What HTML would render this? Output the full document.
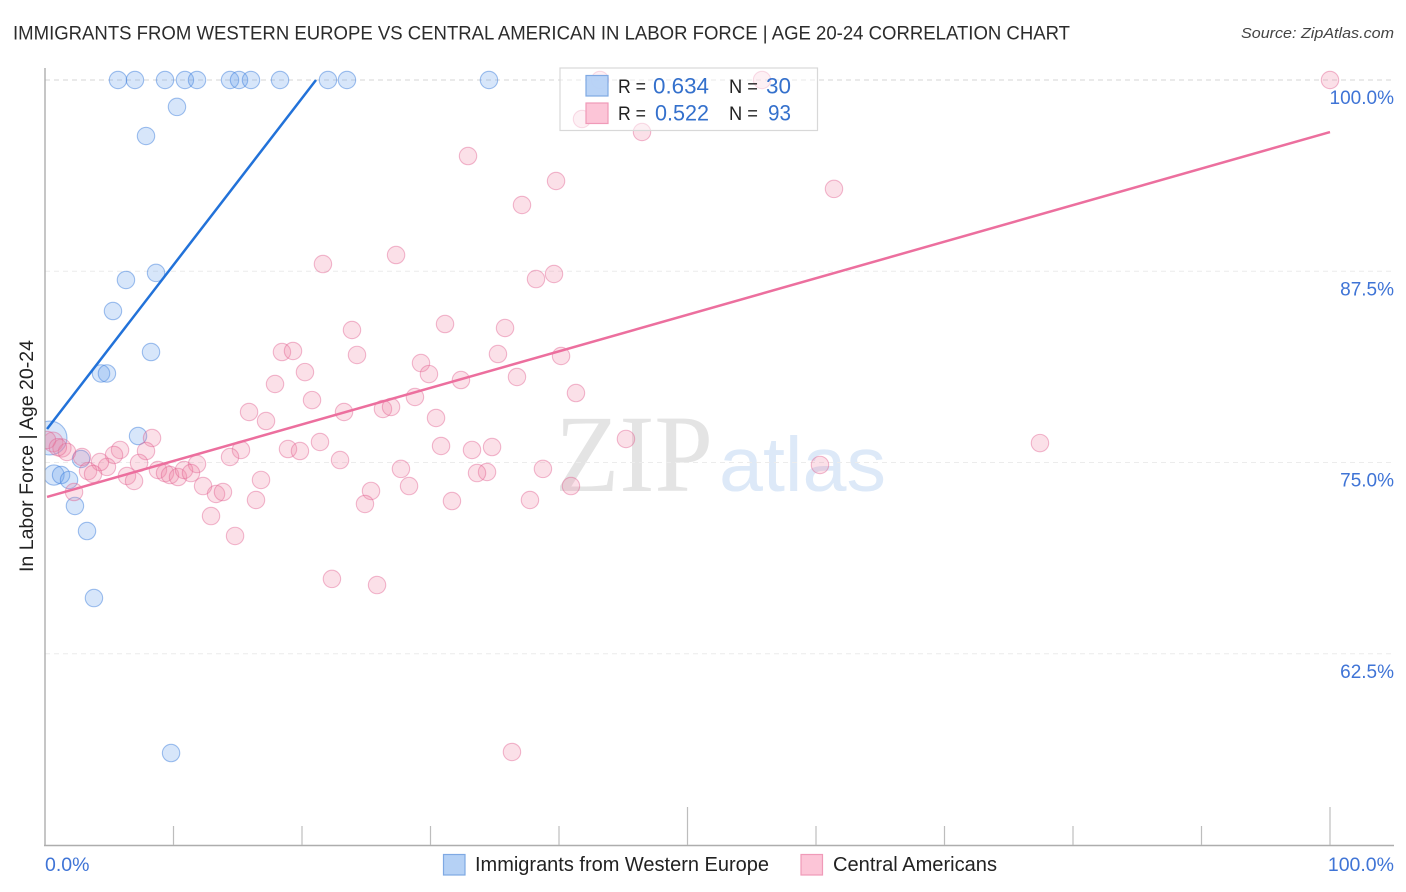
<!DOCTYPE html>
<html lang="en">
<head>
<meta charset="utf-8">
<title>Immigrants from Western Europe vs Central American in Labor Force | Age 20-24 Correlation Chart</title>
<style>
html,body{margin:0;padding:0;background:#fff;width:1406px;height:892px;overflow:hidden}
svg{display:block}
text{font-family:"Liberation Sans",sans-serif}
</style>
</head>
<body>
<svg id="chart" xmlns="http://www.w3.org/2000/svg" width="1406" height="892" viewBox="0 0 1406 892">
  <defs><clipPath id="plot-clip"><rect x="45.5" y="60" width="1360" height="785"/></clipPath></defs>
  <rect width="1406" height="892" fill="#fff"/>
  <text x="13" y="39.5" font-size="19.6" fill="#2b2b2b" textLength="1057" lengthAdjust="spacingAndGlyphs">IMMIGRANTS FROM WESTERN EUROPE VS CENTRAL AMERICAN IN LABOR FORCE | AGE 20-24 CORRELATION CHART</text>
  <text x="1394" y="38" font-size="15" font-style="italic" fill="#444" text-anchor="end" textLength="153" lengthAdjust="spacingAndGlyphs">Source: ZipAtlas.com</text>
  <text transform="translate(33,456) rotate(-90)" font-size="19" fill="#222" text-anchor="middle" textLength="232" lengthAdjust="spacingAndGlyphs">In Labor Force | Age 20-24</text>
  <g id="watermark">
    <text x="555" y="491" font-size="110" fill="#e4e4e4" textLength="158" lengthAdjust="spacingAndGlyphs" style="font-family:'Liberation Serif',serif">ZIP</text>
    <text x="719" y="491" font-size="77" fill="#dde9f8" textLength="167" lengthAdjust="spacingAndGlyphs">atlas</text>
  </g>
  <g id="grid"></g>
  <g id="axes"></g>
  <g id="blue-points" clip-path="url(#plot-clip)"></g>
  <g id="pink-points" clip-path="url(#plot-clip)"></g>
  <g id="trend-lines"></g>
  <g id="labels"></g>
  <g id="stat-legend">
    <rect x="560" y="68" width="257.5" height="62.5" fill="#fff" fill-opacity="0.5" stroke="#d8d8d8" stroke-width="1.2"/>
    <rect x="586" y="75.5" width="22" height="20.5" fill="#b5d1f5" fill-opacity=".95" stroke="#7fa9e3" stroke-width="1.2"/>
    <rect x="586" y="103" width="22" height="20.5" fill="#fcc5d7" stroke="#f09ab8" stroke-width="1.2"/>
    <text x="618" y="93" font-size="19" fill="#222" textLength="28" lengthAdjust="spacingAndGlyphs">R =</text>
    <text x="653" y="93.5" font-size="22" fill="#3470cc" textLength="56" lengthAdjust="spacingAndGlyphs">0.634</text>
    <text x="729" y="93" font-size="19" fill="#222" textLength="29" lengthAdjust="spacingAndGlyphs">N =</text>
    <text x="766" y="93.5" font-size="22" fill="#3470cc" textLength="25" lengthAdjust="spacingAndGlyphs">30</text>
    <text x="618" y="120" font-size="19" fill="#222" textLength="28" lengthAdjust="spacingAndGlyphs">R =</text>
    <text x="655" y="120.5" font-size="22" fill="#3470cc" textLength="54" lengthAdjust="spacingAndGlyphs">0.522</text>
    <text x="729" y="120" font-size="19" fill="#222" textLength="29" lengthAdjust="spacingAndGlyphs">N =</text>
    <text x="768" y="120.5" font-size="22" fill="#3470cc" textLength="23" lengthAdjust="spacingAndGlyphs">93</text>
  </g>
  <g id="bottom-legend">
    <rect x="443.5" y="854.5" width="21.5" height="20.5" fill="#b5d1f5" stroke="#7fa9e3" stroke-width="1.2"/>
    <text x="475" y="871" font-size="20" fill="#222" textLength="294" lengthAdjust="spacingAndGlyphs">Immigrants from Western Europe</text>
    <rect x="801" y="854.5" width="21.5" height="20.5" fill="#fcc5d7" stroke="#f09ab8" stroke-width="1.2"/>
    <text x="833" y="871" font-size="20" fill="#222" textLength="164" lengthAdjust="spacingAndGlyphs">Central Americans</text>
  </g>
</svg>
<script>
const blueX = [5.68,7.00,9.34,10.89,11.83,14.40,15.10,16.03,18.29,22.02,23.50,34.55,10.27,7.86,6.30,8.64,5.29,8.25,4.36,4.82,7.24,2.80,0.70,1.25,1.87,2.33,3.27,3.81,9.81,0.39];
const blueY = [100,100,100,100,100,100,100,100,100,100,100,100,98.24,96.34,86.93,87.39,84.90,82.22,80.82,80.82,76.73,75.23,74.18,74.18,73.86,72.16,70.52,66.14,56.01,76.60];
const blueWeight = [1,1,1,1,1,1,1,1,1,1,1,1,1,1,1,1,1,1,1,1,1,1,1.35,1,1,1,1,1,1,3.8];
const pinkX = [43.19,55.80,100,41.79,46.46,32.92,39.77,37.12,61.40,27.32,21.63,39.61,38.21,31.13,35.80,23.89,24.28,18.44,19.30,35.25,40.16,29.26,29.88,20.23,32.37,36.73,17.90,41.32,20.78,28.79,26.30,26.93,23.27,15.88,17.20,30.43,21.40,8.33,45.21,77.43,30.82,33.23,34.79,18.91,19.84,5.84,7.86,15.25,14.40,22.96,5.37,2.88,60.31,7.32,11.83,27.70,38.75,4.82,4.28,8.79,9.34,9.73,10.35,10.82,11.36,34.40,33.62,6.38,6.93,3.35,3.74,16.81,28.33,40.93,2.26,12.30,13.31,13.85,25.37,31.67,37.74,24.90,16.42,12.92,14.79,22.33,25.84,36.34,0.62,1.32,1.71,0.16,1.00];
const pinkY = [100,100,100,97.45,96.60,95.03,93.40,91.83,92.88,88.56,87.97,87.32,86.99,84.05,83.79,83.66,82.03,82.22,82.29,82.09,81.96,81.50,80.78,80.91,80.39,80.59,80.13,79.54,79.08,79.28,78.50,78.63,78.30,78.30,77.71,77.91,76.34,76.60,76.54,76.27,76.08,75.82,76.01,75.88,75.75,75.82,75.75,75.82,75.36,75.16,75.49,75.36,74.84,74.97,74.90,74.58,74.58,74.71,75.03,74.51,74.31,74.18,74.05,74.51,74.31,74.38,74.31,74.12,73.79,74.44,74.25,73.86,73.46,73.46,73.07,73.46,72.94,73.07,73.14,72.48,72.55,72.29,72.55,71.50,70.20,67.39,66.99,56.08,76.34,75.95,75.69,76.47,76.00];
const pinkWeight = [1,1,1,1,1,1,1,1,1,1,1,1,1,1,1,1,1,1,1,1,1,1,1,1,1,1,1,1,1,1,1,1,1,1,1,1,1,1,1,1,1,1,1,1,1,1,1,1,1,1,1,1,1,1,1,1,1,1,1,1,1,1,1,1,1,1,1,1,1,1,1,1,1,1,1,1,1,1,1,1,1,1,1,1,1,1,1,1,1.3,1.1,1,1,1];
const blueTrendX = [0.16,21.09];
const blueTrendY = [77.19,100];
const pinkTrendX = [0.16,100];
const pinkTrendY = [72.75,96.6];
const yTicks = [100,87.5,75,62.5];
const yTickLabels = ['100.0%','87.5%','75.0%','62.5%'];
const xTicks = [10,20,30,40,50,60,70,80,90,100];
const xMajorTicks = [50,100];
const xEndTicks = [0,100];
const xEndLabels = ['0.0%','100.0%'];

const NS = 'http://www.w3.org/2000/svg';
function xScale(v){ return 45 + v * 12.85; }
function yScale(v){ return 80 + (100 - v) * 15.3; }
function rScale(w){ return 8.7 * Math.sqrt(w); }
function make(tag, attrs){
  const el = document.createElementNS(NS, tag);
  for (const k in attrs) el.setAttribute(k, attrs[k]);
  return el;
}

const grid = document.getElementById('grid');
yTicks.forEach(function(t, i){
  const line = make('line', {x1:45, x2:1394, y1:yScale(t), y2:yScale(t), stroke: i === 0 ? '#d4d4d4' : '#ececec', 'stroke-width':1.1, 'stroke-dasharray':'5 4'});
  
  
  grid.appendChild(line);
});

const axes = document.getElementById('axes');
const yAxis = make('line', {x1:45, x2:45, y1:68, y2:846, stroke:'#adadad', 'stroke-width':1.4});


axes.appendChild(yAxis);
const xAxis = make('line', {x1:44, x2:1394, y1:845.5, y2:845.5, stroke:'#adadad', 'stroke-width':1.4});


axes.appendChild(xAxis);
xTicks.forEach(function(t){
  const top = xMajorTicks.indexOf(t) >= 0 ? 807 : 826;
  const tick = make('line', {x1:xScale(t), x2:xScale(t), y1:top, y2:845, stroke:'#bdbdbd', 'stroke-width':1.2});
  
  
  axes.appendChild(tick);
});

const labels = document.getElementById('labels');
yTicks.forEach(function(t, i){
  const lab = make('text', {x:1394, y:yScale(t) + 24, 'font-size':19, fill:'#3f74d6', 'text-anchor':'end'});
  lab.textContent = yTickLabels[i];
  
  
  labels.appendChild(lab);
});
xEndTicks.forEach(function(t, i){
  const lab = make('text', {x: i === 0 ? 45 : 1394, y:871, 'font-size':19.5, fill:'#3f74d6', 'text-anchor': i === 0 ? 'start' : 'end'});
  lab.textContent = xEndLabels[i];
  
  
  labels.appendChild(lab);
});

const blueGroup = document.getElementById('blue-points');
blueX.forEach(function(x, i){
  const c = make('circle', {cx:xScale(x), cy:yScale(blueY[i]), r:rScale(blueWeight[i]), fill:'rgba(100,160,235,.26)', stroke:'rgba(60,125,220,.48)', 'stroke-width':1.1});
  
  
  blueGroup.appendChild(c);
});
const pinkGroup = document.getElementById('pink-points');
pinkX.forEach(function(x, i){
  const c = make('circle', {cx:xScale(x), cy:yScale(pinkY[i]), r:rScale(pinkWeight[i]), fill:'rgba(240,130,165,.25)', stroke:'rgba(225,90,140,.42)', 'stroke-width':1.1});
  
  
  pinkGroup.appendChild(c);
});

const trends = document.getElementById('trend-lines');
const blueLine = make('line', {x1:xScale(blueTrendX[0]), y1:yScale(blueTrendY[0]), x2:xScale(blueTrendX[1]), y2:yScale(blueTrendY[1]), stroke:'#2272d9', 'stroke-width':2.5});


trends.appendChild(blueLine);
const pinkLine = make('line', {x1:xScale(pinkTrendX[0]), y1:yScale(pinkTrendY[0]), x2:xScale(pinkTrendX[1]), y2:yScale(pinkTrendY[1]), stroke:'#ec6f9e', 'stroke-width':2.5});


trends.appendChild(pinkLine);
</script>
</body>
</html>
